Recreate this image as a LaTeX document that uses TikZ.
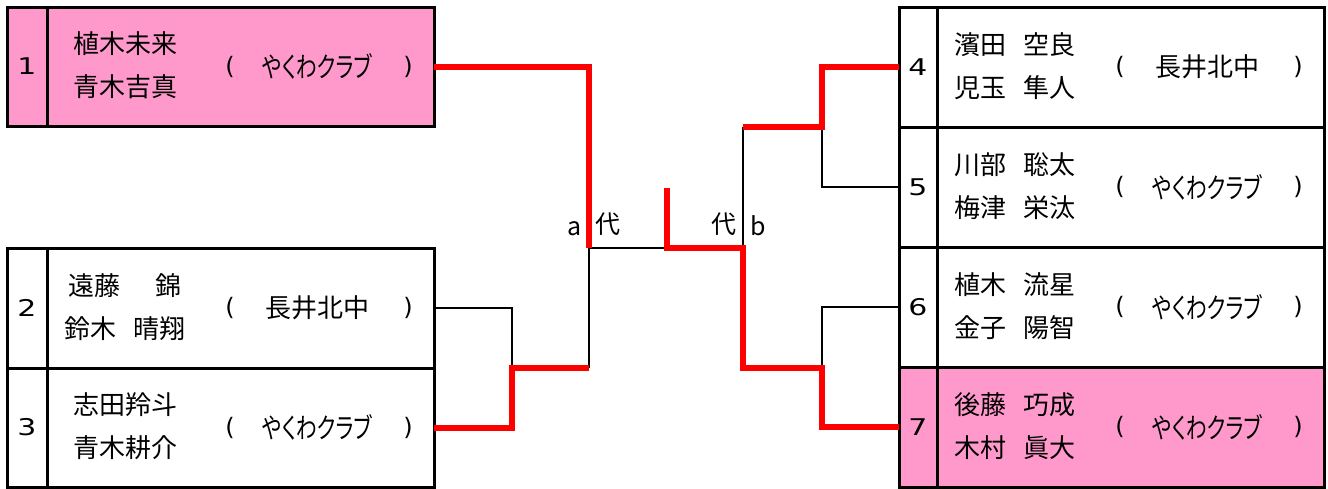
\documentclass[tikz,border=0pt]{standalone}
\usepackage{fontspec}
\newfontfamily\jp{Noto Sans CJK JP}
\newfontfamily\jpp{Noto Sans CJK JP}[RawFeature=+palt]
\newfontfamily\dv{DejaVu Sans}
\definecolor{pinkfill}{HTML}{FF99CC}
\definecolor{redline}{HTML}{FF0000}
\newcommand\yakuwa{\fontsize{28}{30}\selectfont\scalebox{0.74}[1]{やくわクラブ}}
\newcommand\wide[1]{\scalebox{1.3}[1]{#1}}
\tikzset{
  cellbox/.style={draw=black, line width=3pt, inner sep=0pt, outer sep=0pt, anchor=north west},
  numtext/.style={font=\dv\fontsize{23}{26}\selectfont, inner sep=0pt},
  nametext/.style={font=\jp\fontsize{26}{43}\selectfont, align=center, inner sep=0pt},
  clubtext/.style={font=\jpp\fontsize{26}{30}\selectfont, inner sep=0pt},
  parentext/.style={font=\dv\fontsize{24}{28}\selectfont, inner sep=0pt},
  lbltext/.style={font=\jp\fontsize{25}{30}\selectfont, inner sep=0pt, anchor=base},
  thinline/.style={draw=black, line width=2.6pt},
  winline/.style={draw=redline, line width=6pt},
}
% #1 id, #2 x, #3 y, #4 fill, #5 number width, #6 height, #7 number, #8 names, #9 club
\newcommand\myentry[9]{%
  \node[cellbox, fill=#4, minimum width=#5pt, minimum height=#6pt] (n#1) at (#2,#3) {};
  \node[cellbox, fill=#4, minimum width=387pt, minimum height=#6pt] (e#1) at (n#1.north east) {};
  \node[numtext] (t#1) at (n#1.center) {\wide{#7}};
  \node[nametext, xshift=78pt, yshift=1pt] (m#1) at (e#1.west) {#8};
  \node[parentext, xshift=183pt] (po#1) at (e#1.west) {(};
  \node[clubtext, xshift=270pt] (c#1) at (e#1.west) {#9};
  \node[parentext, xshift=361pt] (pc#1) at (e#1.west) {)};
}
\begin{document}
\begin{tikzpicture}[x=1pt,y=-1pt]
\useasboundingbox[fill=white] (0,0) rectangle (1328,488);
% left side
\myentry{1}{7}{7}{pinkfill}{40}{119}{1}{植木未来\\青木吉真}{\yakuwa}
\myentry{2}{7}{248}{white}{40}{120}{2}{遠藤\hspace{35pt}錦\\鈴木\hspace{17pt}晴翔}{長井北中}
\myentry{3}{7}{368}{white}{40}{119}{3}{志田羚斗\\青木耕介}{\yakuwa}
% right side
\myentry{4}{899}{7}{white}{38}{120}{4}{濱田\hspace{17pt}空良\\児玉\hspace{17pt}隼人}{長井北中}
\myentry{5}{899}{127}{white}{38}{120}{5}{川部\hspace{17pt}聡太\\梅津\hspace{17pt}栄汰}{\yakuwa}
\myentry{6}{899}{247}{white}{38}{120}{6}{植木\hspace{17pt}流星\\金子\hspace{17pt}陽智}{\yakuwa}
\myentry{7}{899}{367}{pinkfill}{38}{120}{7}{後藤\hspace{17pt}巧成\\木村\hspace{17pt}眞大}{\yakuwa}
% junctions
\coordinate (j23) at (512,368);
\coordinate (ja) at (589,248);
\coordinate (jalow) at (589,368);
\coordinate (ctop) at (667,188);
\coordinate (cmid) at (667,248);
\coordinate (jb) at (743,248);
\coordinate (jbtop) at (743,127);
\coordinate (jblow) at (743,368);
\coordinate (j45) at (822,127);
\coordinate (j67) at (822,368);
% black connectors
\draw[thinline] (e2.east) -| (j23);
\draw[thinline] (ja) -- (jalow);
\draw[thinline] (ja) -- (cmid);
\draw[thinline] (jb) -- (jbtop);
\draw[thinline] (j45) |- (n5.west);
\draw[thinline] (j67) |- (n6.west);
% red winner lines
\draw[winline] (e1.east) -| (ja);
\draw[winline] (e3.east) -| (j23) -- (jalow);
\draw[winline] (ctop) -- (cmid) -- (jb) -- (jblow) -- (j67) |- (n7.west);
\draw[winline] (jbtop) -- (j45) |- (n4.west);
% labels
\node[lbltext] (la) at (575,235) {a};
\node[lbltext] (ld1) at (608,233) {代};
\node[lbltext] (ld2) at (724,233) {代};
\node[lbltext] (lb) at (758,235) {b};
\end{tikzpicture}
\end{document}
